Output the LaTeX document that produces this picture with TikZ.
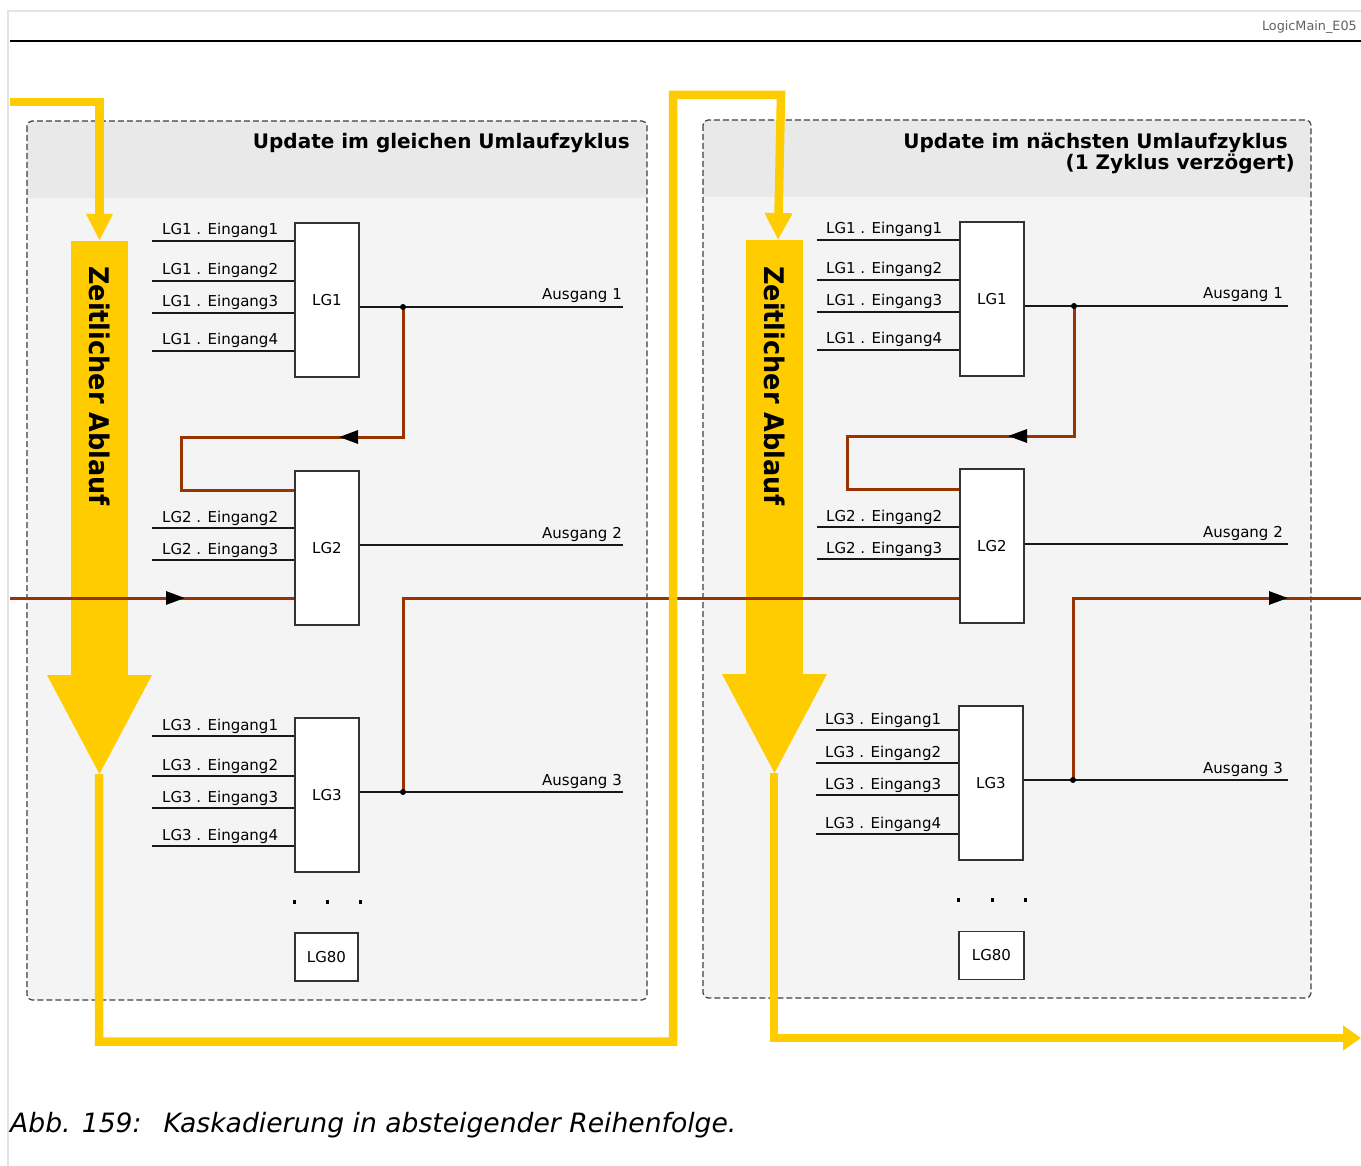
\documentclass[tikz,border=0pt]{standalone}
\usepackage{fontspec}
\setmainfont{DejaVu Sans}
\usetikzlibrary{arrows.meta,calc}
\definecolor{ylw}{RGB}{255,204,0}
\definecolor{brn}{RGB}{153,51,0}
\definecolor{hdr}{RGB}{233,233,233}
\definecolor{bodyc}{RGB}{244,244,244}
\definecolor{frm}{RGB}{228,228,228}
\begin{document}
\begin{tikzpicture}[x=1pt,y=-1pt,line join=miter,
  gate/.style={draw=black!80, line width=1.3pt, fill=white, minimum width=64pt, minimum height=154pt, inner sep=0pt, font=\fontsize{15}{18}\selectfont},
  smallgate/.style={gate, minimum width=63pt, minimum height=48pt},
  lbl/.style={font=\fontsize{15}{18}\selectfont, inner sep=0pt},
  sig/.style={line width=1.2pt, black!90},
  fb/.style={line width=3pt, brn},
  flow/.style={line width=8.5pt, ylw},
  panelbox/.style={draw=black!75, dash pattern=on 6pt off 3pt, line width=1.2pt, rounded corners=5pt},
  bar/.style={fill=ylw, minimum width=57pt, minimum height=435pt, inner sep=0pt},
  bartext/.style={rotate=-90, font=\bfseries\fontsize{27}{27}\selectfont, inner sep=0pt},
  title/.style={font=\bfseries\fontsize{20}{20}\selectfont, inner sep=0pt},
  dotm/.style={fill=black, minimum width=3pt, minimum height=4pt, inner sep=0pt},
  jdot/.style={circle, fill=black, minimum size=6pt, inner sep=0pt},
  fbtip/.style={-{Triangle[width=13pt,length=19pt,black]}},
]
\useasboundingbox (0,0) rectangle (1361,1166);
\fill[white] (0,0) rectangle (1361,1166);
% frame and header rule
\draw[frm, line width=1.5pt] (8,1166) -- (8,11) -- (1361,11);
\draw[line width=2.2pt] (10,41) -- (1361,41);
\node[anchor=base east, font=\fontsize{12.8}{14}\selectfont, text=black!62, inner sep=0pt] (tag) at (1357,31) {LogicMain\_E05};

% ---------- panels ----------
\fill[bodyc, rounded corners=5pt] (27,121) rectangle (647,1000);
\begin{scope}
  \clip[rounded corners=5pt] (27,121) rectangle (647,1000);
  \fill[hdr] (27,121) rectangle (647,198);
\end{scope}
\draw[panelbox] (27,121) rectangle (647,1000);
\fill[bodyc, rounded corners=5pt] (703,120) rectangle (1311,998);
\begin{scope}
  \clip[rounded corners=5pt] (703,120) rectangle (1311,998);
  \fill[hdr] (703,120) rectangle (1311,197);
\end{scope}
\draw[panelbox] (703,120) rectangle (1311,998);

\node[title, anchor=base east] (t1) at (630,149) {Update im gleichen Umlaufzyklus};
\node[title, anchor=base east] (t2) at (1288,149) {Update im nächsten Umlaufzyklus};
\node[title, anchor=base east] (t3) at (1295,170) {(1 Zyklus verzögert)};

% ---------- yellow bars ----------
\node[bar] (bar1) at (99.5,458.5) {};
\fill[ylw] (47,675) -- (152,675) -- (99.5,774) -- cycle;
\coordinate (tip1) at (99,774);
\node[bartext] (z1) at (100,386) {\scalebox{0.945}[1]{Zeitlicher Ablauf}};

\node[bar] (bar2) at (774.5,457.5) {};
\fill[ylw] (722,674) -- (827,674) -- (774.5,773) -- cycle;
\coordinate (tip2) at (774,773);
\node[bartext] (z2) at (775,386) {\scalebox{0.945}[1]{Zeitlicher Ablauf}};

% ---------- left panel gates ----------
\node[gate] (ga1) at (327,300) {LG1};
\node[gate] (ga2) at (327,548) {LG2};
\node[gate] (ga3) at (327,795) {LG3};
\node[smallgate] (ga80) at (326.5,957) {LG80};
\foreach \x [count=\i] in {294,327,360} \node[dotm] (da\i) at (\x,902) {};

\foreach \y/\t [count=\i] in {241/1,281/2,313/3,351/4} {
  \coordinate (a1i\i) at (152,\y);
  \draw[sig] (a1i\i) -- (a1i\i -| ga1.west);
  \node[lbl, anchor=base west] (a1t\i) at (162,\y-6) {LG1 . Eingang\t};
}
\foreach \y/\t [count=\i] in {528/2,560/3} {
  \coordinate (a2i\i) at (152,\y);
  \draw[sig] (a2i\i) -- (a2i\i -| ga2.west);
  \node[lbl, anchor=base west] (a2t\i) at (162,\y-6) {LG2 . Eingang\t};
}
\foreach \y/\t [count=\i] in {736/1,776/2,808/3,846/4} {
  \coordinate (a3i\i) at (152,\y);
  \draw[sig] (a3i\i) -- (a3i\i -| ga3.west);
  \node[lbl, anchor=base west] (a3t\i) at (162,\y-6) {LG3 . Eingang\t};
}
\foreach \y/\t [count=\i] in {307/1,545/2,792/3} {
  \coordinate (ao\i) at (623,\y);
  \draw[sig] (ao\i -| ga\i.east) -- (ao\i);
  \node[lbl, anchor=base east] (aot\i) at (622,\y-7) {Ausgang \t};
}

% ---------- right panel gates ----------
\node[gate] (gb1) at (992,299) {LG1};
\node[gate] (gb2) at (992,546) {LG2};
\node[gate] (gb3) at (991,783) {LG3};
\node[smallgate, minimum width=65pt] (gb80) at (991.5,955.5) {LG80};
\foreach \x [count=\i] in {958,992,1025} \node[dotm] (db\i) at (\x,899.5) {};

\foreach \y/\t [count=\i] in {240/1,280/2,312/3,350/4} {
  \coordinate (b1i\i) at (817,\y);
  \draw[sig] (b1i\i) -- (b1i\i -| gb1.west);
  \node[lbl, anchor=base west] (b1t\i) at (826,\y-6) {LG1 . Eingang\t};
}
\foreach \y/\t [count=\i] in {527/2,559/3} {
  \coordinate (b2i\i) at (817,\y);
  \draw[sig] (b2i\i) -- (b2i\i -| gb2.west);
  \node[lbl, anchor=base west] (b2t\i) at (826,\y-6) {LG2 . Eingang\t};
}
\foreach \y/\t [count=\i] in {730/1,763/2,795/3,834/4} {
  \coordinate (b3i\i) at (816,\y);
  \draw[sig] (b3i\i) -- (b3i\i -| gb3.west);
  \node[lbl, anchor=base west] (b3t\i) at (825,\y-6) {LG3 . Eingang\t};
}
\foreach \y/\t [count=\i] in {306/1,544/2,780/3} {
  \coordinate (bo\i) at (1288,\y);
  \draw[sig] (bo\i -| gb\i.east) -- (bo\i);
  \node[lbl, anchor=base east] (bot\i) at (1283,\y-7) {Ausgang \t};
}

% ---------- brown feedback lines ----------
\coordinate (ja1) at (403,307);
\coordinate (ja3) at (403,792);
\coordinate (fa1) at (339,437);
\coordinate (fa1b) at (356,437);
\coordinate (ka1) at (181,490);
\draw[fb] (fa1b) -| (ka1) -- (ka1 -| ga2.west);
\draw[fb, fbtip] (ja1) |- (fa1);

\coordinate (jb1) at (1074,306);
\coordinate (jb3) at (1073,780);
\coordinate (fb1) at (1008,436);
\coordinate (fb1b) at (1025,436);
\coordinate (kb1) at (847,489);
\draw[fb] (fb1b) -| (kb1) -- (kb1 -| gb2.west);
\draw[fb, fbtip] (jb1) |- (fb1);

\coordinate (m0) at (10,598);
\coordinate (ma1) at (185,598);
\coordinate (ma1b) at (168,598);
\draw[fb] (ma1b) -- (ma1b -| ga2.west);
\draw[fb, fbtip] (m0) -- (ma1);
\draw[fb] (ja3) |- (m0 -| gb2.west);
\coordinate (ma2) at (1288,598);
\coordinate (ma2b) at (1271,598);
\coordinate (m9) at (1361,598);
\draw[fb] (ma2b) -- (m9);
\draw[fb, fbtip] (jb3) |- (ma2);

\node[jdot] (dja1) at (ja1) {};
\node[jdot] (dja3) at (ja3) {};
\node[jdot] (djb1) at (jb1) {};
\node[jdot] (djb3) at (jb3) {};

% ---------- yellow flow lines ----------
\coordinate (y0) at (10,102);
\draw[flow, -{Triangle[width=25pt,length=27pt]}] (y0) -| (bar1.north);
\coordinate (c1) at (673,1041.5);
\coordinate (c2) at (781,95);
\coordinate (ye1) at (778,240);
\draw[flow, -{Triangle[width=26pt,length=27pt]}] (tip1) |- (c1) |- (c2) -- (ye1);
\coordinate (ye2) at (1361,1038);
\draw[flow, -{Triangle[width=24pt,length=18pt]}] (tip2) |- (ye2);

% ---------- caption ----------
\node[anchor=base west, font=\itshape\fontsize{26.6}{30}\selectfont, inner sep=0pt] (cap) at (10,1132) {Abb. 159:\hspace{22pt}Kaskadierung in absteigender Reihenfolge.};
\end{tikzpicture}
\end{document}
